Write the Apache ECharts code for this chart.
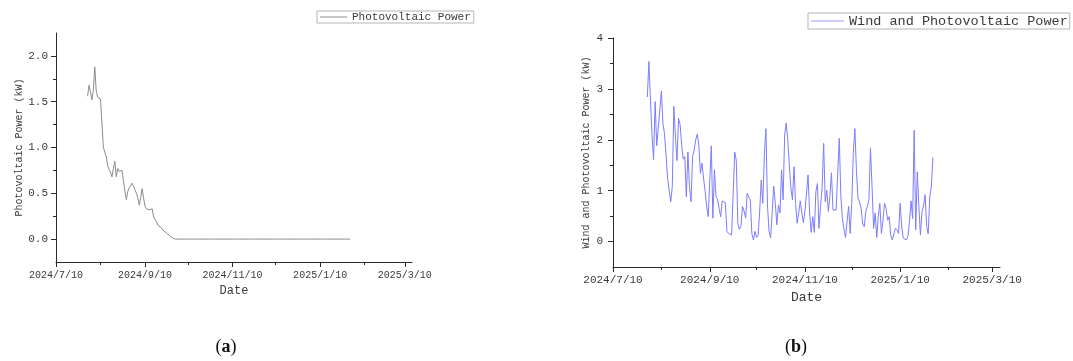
<!DOCTYPE html>
<html><head><meta charset="utf-8">
<script src="https://cdn.jsdelivr.net/npm/echarts@6/dist/echarts.min.js"></script>
<style>html,body{margin:0;padding:0;background:#fff}#c{width:1073px;height:361px}</style>
</head><body><div id="c"></div>
<script>
// ---------- data ----------
const firstDay = '2024/8/1';            // daily series start (one value per day)
const pvName = 'Photovoltaic Power';
const wpName = 'Wind and Photovoltaic Power';
const pvPower = [
  1.56, 1.68, 1.61, 1.52, 1.62, 1.88, 1.62, 1.55, 1.54, 1.53,
  1.55, 1.0, 1.01, 0.9, 0.8, 0.76, 0.73, 0.68, 0.77, 0.85,
  0.68, 0.77, 0.74, 0.75, 0.75, 0.75, 0.52, 0.43, 0.52, 0.56,
  0.54, 0.61, 0.58, 0.54, 0.5, 0.45, 0.37, 0.45, 0.55, 0.45,
  0.36, 0.33, 0.32, 0.32, 0.34, 0.33, 0.24, 0.22, 0.19, 0.15,
  0.14, 0.13, 0.11, 0.09, 0.08, 0.065, 0.05, 0.04, 0.025, 0.015,
  0.005, 0,
  0, 0, 0, 0, 0, 0, 0, 0, 0, 0,
  0, 0, 0, 0, 0, 0, 0, 0, 0, 0,
  0, 0, 0, 0, 0, 0, 0, 0, 0, 0,
  0, 0, 0, 0, 0, 0, 0, 0, 0, 0,
  0, 0, 0, 0, 0, 0, 0, 0, 0, 0,
  0, 0, 0, 0, 0, 0, 0, 0, 0, 0,
  0, 0, 0, 0, 0, 0, 0, 0, 0, 0,
  0, 0, 0, 0, 0, 0, 0, 0, 0, 0,
  0, 0, 0, 0, 0, 0, 0, 0, 0, 0,
  0, 0, 0, 0, 0, 0, 0, 0, 0, 0,
  0, 0, 0, 0, 0, 0, 0, 0, 0, 0,
  0, 0, 0, 0, 0, 0, 0, 0, 0, 0,
  0, 0
];
const windPvPower = [
  2.84, 3.54, 2.78, 2.1, 1.61, 2.75, 1.88, 1.88, 2.58, 2.96,
  2.32, 2.12, 1.7, 1.25, 1.0, 0.78, 1.08, 2.66, 2.06, 1.59,
  2.42, 2.3, 1.9, 1.62, 1.67, 0.88, 1.76, 1.08, 0.78, 1.67,
  1.8, 2.0, 2.11, 1.9, 1.34, 1.54, 1.25, 1.0, 0.69, 0.49,
  0.5, 1.88, 0.46, 1.41, 0.88, 0.83, 0.65, 0.49, 0.8, 0.8,
  0.76, 0.2, 0.16, 0.14, 0.13, 0.16, 1.76, 1.6, 0.35, 0.24,
  0.3, 0.69, 0.6, 0.46, 0.95, 0.87, 0.82, 0.15, 0.03, 0.2,
  0.08, 0.12, 0.6, 1.21, 0.75, 1.7, 2.22, 0.7, 0.2, 0.07,
  0.56, 1.09, 0.75, 0.33, 0.72, 0.56, 1.41, 0.82, 2.1, 2.33,
  2.0, 1.5, 1.05, 0.82, 1.47, 0.75, 0.36, 0.56, 0.8, 0.56,
  0.37, 0.6, 0.95, 1.31, 0.56, 0.18, 0.49, 0.18, 0.98, 1.14,
  0.26, 0.69, 1.05, 1.93, 0.78, 1.01, 0.59, 0.9, 1.35, 0.62,
  0.65, 0.62, 1.34, 2.03, 0.9, 0.45, 0.25, 0.08, 0.4, 0.69,
  0.16, 0.75, 1.75, 2.22, 1.4, 0.85, 0.78, 0.65, 0.35, 0.29,
  0.59, 0.69, 0.82, 1.84, 1.08, 0.26, 0.56, 0.08, 0.49, 0.75,
  0.16, 0.4, 0.75, 0.65, 0.42, 0.49, 0.12, 0.03, 0.15, 0.26,
  0.22, 0.16, 0.75, 0.29, 0.07, 0.1, 0.03, 0.1, 0.4, 0.8,
  0.45, 2.19, 0.23, 1.37, 0.7, 0.13, 0.58, 0.7, 0.92, 0.3,
  0.15, 0.88, 1.08, 1.65
];
const xAxisRange = ['2024/7/10', '2025/3/15'];
const xMajorTicks = ['2024/7/10', '2024/9/10', '2024/11/10', '2025/1/10', '2025/3/10'];
const xMinorTicks = ['2024/8/10', '2024/10/10', '2024/12/10', '2025/2/10'];
const pvRange = [-0.25, 2.25];
const pvTicks = [0, 0.5, 1, 1.5, 2];
const pvMinorTicks = [0.25, 0.75, 1.25, 1.75];
const wpRange = [-0.5, 4];
const wpTicks = [0, 1, 2, 3, 4];
const wpMinorTicks = [0.5, 1.5, 2.5, 3.5];

// ---------- helpers ----------
function ts(s) { const p = s.split('/').map(Number); return new Date(p[0], p[1] - 1, p[2]).getTime(); }
function fmtDate(v) { const d = new Date(v); return d.getFullYear() + '/' + (d.getMonth() + 1) + '/' + d.getDate(); }
function toPairs(values) {
  const p = firstDay.split('/').map(Number);
  return values.map((v, i) => [new Date(p[0], p[1] - 1, p[2] + i).getTime(), v]);
}
const FONT = 'Liberation Mono';
const AX = '#2a2a2a', TXT = '#3a3a3a';

function xAxes(gridIndex, labelSize, nameSize, nameGap) {
  return [{
    type: 'value', gridIndex, position: 'bottom', min: ts(xAxisRange[0]), max: ts(xAxisRange[1]),
    name: 'Date', nameLocation: 'middle', nameGap,
    nameTextStyle: { fontFamily: FONT, fontSize: nameSize, color: TXT },
    axisLine: { show: true, onZero: false, lineStyle: { color: AX, width: 1 } },
    axisTick: { show: true, length: 5, lineStyle: { color: AX }, customValues: xMajorTicks.map(ts) },
    axisLabel: { show: true, margin: 8, fontFamily: FONT, fontSize: labelSize, color: TXT,
      customValues: xMajorTicks.map(ts), formatter: fmtDate, hideOverlap: false },
    splitLine: { show: false }
  }, {
    type: 'value', gridIndex, position: 'bottom', min: ts(xAxisRange[0]), max: ts(xAxisRange[1]),
    axisLine: { show: false, onZero: false },
    axisTick: { show: true, length: 3, lineStyle: { color: AX }, customValues: xMinorTicks.map(ts) },
    axisLabel: { show: false }, splitLine: { show: false }
  }];
}
function yAxes(gridIndex, range, ticks, minor, name, labelSize, nameSize, nameGap, margin, digits) {
  return [{
    type: 'value', gridIndex, position: 'left', min: range[0], max: range[1],
    name, nameLocation: 'middle', nameGap,
    nameTextStyle: { fontFamily: FONT, fontSize: nameSize, color: TXT },
    axisLine: { show: true, onZero: false, lineStyle: { color: AX, width: 1 } },
    axisTick: { show: true, length: 5, lineStyle: { color: AX }, customValues: ticks },
    axisLabel: { show: true, margin, fontFamily: FONT, fontSize: labelSize, color: TXT,
      customValues: ticks, formatter: v => Number(v).toFixed(digits) },
    splitLine: { show: false }
  }, {
    type: 'value', gridIndex, position: 'left', min: range[0], max: range[1],
    axisLine: { show: false, onZero: false },
    axisTick: { show: true, length: 3, lineStyle: { color: AX }, customValues: minor },
    axisLabel: { show: false }, splitLine: { show: false }
  }];
}

const chart = echarts.init(document.getElementById('c'), null, { renderer: 'canvas' });
chart.setOption({
  animation: false,
  backgroundColor: '#fff',
  grid: [
    { left: 56, top: 33, width: 356, height: 229, containLabel: false },
    { left: 613, top: 38, width: 387, height: 229, containLabel: false }
  ],
  xAxis: [...xAxes(0, 10, 12, 22), ...xAxes(1, 11, 13, 21)],
  yAxis: [
    ...yAxes(0, pvRange, pvTicks, pvMinorTicks, 'Photovoltaic Power (kW)', 11, 10, 32, 8, 1),
    ...yAxes(1, wpRange, wpTicks, wpMinorTicks, 'Wind and Photovoltaic Power (kW)', 11, 10, 22, 10, 0)
  ],
  legend: [
    { data: [pvName], left: 317, top: 11, padding: [0, 3, 0, 3], icon: 'rect', itemWidth: 27, itemHeight: 1,
      borderColor: '#b5b5b5', borderWidth: 1, selectedMode: false,
      textStyle: { fontFamily: FONT, fontSize: 11, color: TXT, lineHeight: 12 } },
    { data: [wpName], left: 808, top: 13, padding: [1, 2, 1, 3], icon: 'rect', itemWidth: 33, itemHeight: 1,
      borderColor: '#b5b5b5', borderWidth: 1, selectedMode: false,
      textStyle: { fontFamily: FONT, fontSize: 13.5, color: TXT, lineHeight: 14 } }
  ],
  series: [
    { name: pvName, type: 'line', xAxisIndex: 0, yAxisIndex: 0, data: toPairs(pvPower),
      symbol: 'none', lineStyle: { color: '#8c8c8c', width: 1 }, itemStyle: { color: '#8c8c8c' } },
    { name: wpName, type: 'line', xAxisIndex: 2, yAxisIndex: 2, data: toPairs(windPvPower),
      symbol: 'none', lineStyle: { color: '#7d7dff', width: 1 }, itemStyle: { color: '#9a9aff' } }
  ],
  graphic: [
    { type: 'text', x: 226, y: 347, style: { text: '{p|(}{b|a}{p|)}', align: 'center', verticalAlign: 'middle',
      rich: { p: { fontFamily: 'Liberation Serif', fontSize: 18, fill: '#111' },
              b: { fontFamily: 'Liberation Serif', fontSize: 18, fontWeight: 'bold', fill: '#111' } } } },
    { type: 'text', x: 796, y: 347, style: { text: '{p|(}{b|b}{p|)}', align: 'center', verticalAlign: 'middle',
      rich: { p: { fontFamily: 'Liberation Serif', fontSize: 18, fill: '#111' },
              b: { fontFamily: 'Liberation Serif', fontSize: 18, fontWeight: 'bold', fill: '#111' } } } }
  ]
});
</script></body></html>
